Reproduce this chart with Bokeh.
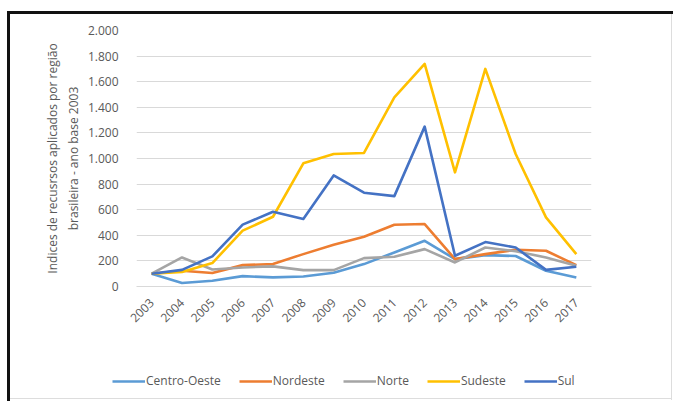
from bokeh.plotting import figure
from bokeh.layouts import column
from bokeh.models import FactorRange, Range1d, Legend, LegendItem, FixedTicker, CustomJSTickFormatter
from bokeh.embed import file_html
from bokeh.resources import INLINE
from math import pi

# Índices por região (base 2003 = 100)
years = [str(y) for y in range(2003, 2018)]
centro_oeste = [100, 27, 45, 81, 71, 78, 107, 175, 266, 357, 214, 245, 238, 123, 70]
nordeste = [100, 123, 105, 167, 175, 253, 326, 389, 483, 488, 214, 253, 287, 279, 167]
norte = [100, 227, 133, 149, 157, 128, 128, 222, 232, 292, 188, 305, 276, 227, 162]
sudeste = [100, 113, 183, 436, 545, 962, 1035, 1043, 1478, 1739, 892, 1700, 1035, 540, 253]
sul = [100, 130, 235, 483, 584, 527, 868, 733, 706, 1249, 240, 347, 305, 130, 154]

y_ticks = list(range(0, 2001, 200))

series = [
    ("Centro-Oeste", centro_oeste, "#5B9BD5"),
    ("Nordeste", nordeste, "#ED7D31"),
    ("Norte", norte, "#A5A5A5"),
    ("Sudeste", sudeste, "#FFC000"),
    ("Sul", sul, "#4472C4"),
]

TEXT = "#595959"
FONT = "Open Sans"
LINE_W = 2.6

# --- main chart -------------------------------------------------------------
p = figure(
    width=673, height=360,
    x_range=FactorRange(*years), y_range=Range1d(0, 2000),
    output_backend="svg", toolbar_location=None,
    min_border_left=136, min_border_right=82,
    min_border_top=30, min_border_bottom=74,
    frame_align=False,
)
p.border_fill_alpha = 0
p.outline_line_color = None
p.background_fill_color = "white"

for name, vals, color in series:
    p.line(years, vals, line_color=color, line_width=LINE_W, line_join="round")

p.xgrid.grid_line_color = None
p.ygrid.grid_line_color = "#d9d9d9"
p.ygrid.grid_line_width = 1

p.yaxis.ticker = FixedTicker(ticks=y_ticks)
p.yaxis.formatter = CustomJSTickFormatter(
    code='return String(tick).replace(/\\B(?=(\\d{3})+(?!\\d))/g, ".");'
)
p.yaxis.axis_line_color = None
p.yaxis.major_tick_line_color = None
p.yaxis.minor_tick_line_color = None
p.yaxis.major_label_standoff = 12
p.yaxis.major_label_text_font = FONT
p.yaxis.major_label_text_font_size = "12px"
p.yaxis.major_label_text_color = TEXT
p.yaxis.axis_label = "Indices de recusrsos aplicados por região\nbrasileira - ano base 2003"
p.yaxis.axis_label_text_font = FONT
p.yaxis.axis_label_text_font_size = "12px"
p.yaxis.axis_label_text_font_style = "normal"
p.yaxis.axis_label_text_color = TEXT
p.yaxis.axis_label_standoff = 3

p.xaxis.axis_line_color = "#d9d9d9"
p.xaxis.major_tick_line_color = None
p.xaxis.minor_tick_line_color = None
p.xaxis.major_label_orientation = pi / 4
p.xaxis.major_label_standoff = 8
p.xaxis.major_label_text_font = FONT
p.xaxis.major_label_text_font_size = "12px"
p.xaxis.major_label_text_color = TEXT
p.x_range.range_padding = 0

# --- legend strip -------------------------------------------------------------
leg = figure(
    width=673, height=41,
    x_range=Range1d(0, 1), y_range=Range1d(0, 1),
    output_backend="svg", toolbar_location=None,
    x_axis_location=None, y_axis_location=None,
    min_border=0, min_border_left=0, min_border_right=0,
    min_border_top=0, min_border_bottom=0,
    frame_align=False,
)
leg.border_fill_alpha = 0
leg.background_fill_alpha = 0
leg.outline_line_color = None
leg.grid.visible = False

# series drawn outside this strip's view; they only supply the legend samples
items = []
for name, vals, color in series:
    r = leg.line(list(range(len(years))), vals, line_color=color, line_width=LINE_W)
    items.append(LegendItem(label=name, renderers=[r]))

legend = Legend(
    items=items,
    orientation="horizontal",
    location=(108, 8),
    glyph_width=33, glyph_height=12,
    label_standoff=1, spacing=18, padding=4, margin=0,
    border_line_alpha=0, background_fill_alpha=0,
    label_text_font=FONT, label_text_font_size="12px",
    label_text_color=TEXT,
)
leg.add_layout(legend, "center")

# black frame around the chart, drawn as the container's background
layout = column(p, leg, spacing=0)
layout.styles = {
    "background": (
        "linear-gradient(#111,#111) 7px 11px / 3px 390px no-repeat,"
        "linear-gradient(#111,#111) 7px 11px / 666px 3px no-repeat,"
        "linear-gradient(#ddd,#ddd) 671px 14px / 1px 386px no-repeat,"
        "linear-gradient(#ddd,#ddd) 10px 398px / 662px 1px no-repeat,"
        "white"
    )
}

open("out.html", "w").write(file_html(layout, INLINE))
